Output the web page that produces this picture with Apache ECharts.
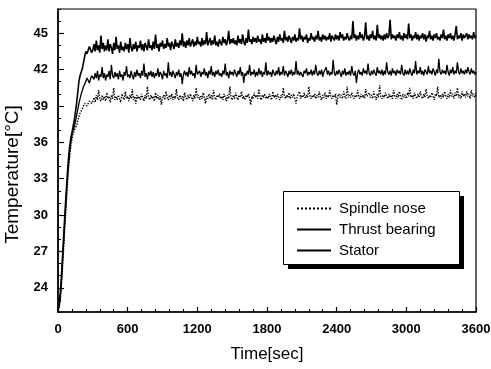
<!DOCTYPE html>
<html>
<head>
<meta charset="utf-8">
<script src="https://cdn.jsdelivr.net/npm/echarts@6/dist/echarts.min.js"></script>
<style>
html,body{margin:0;padding:0;background:#fff;}
#chart{width:491px;height:369px;}
</style>
</head>
<body>
<div id="chart"></div>
<script>
// one reading every 10 s, from 0 to 3600 s
const sampleStep = 10;
const seriesNames = ['Spindle nose', 'Thrust bearing', 'Stator'];
const xTicks = [0, 600, 1200, 1800, 2400, 3000, 3600];
const yTicks = [24, 27, 30, 33, 36, 39, 42, 45];

const stator = [
22.3, 22.6, 23.6, 25.0, 26.8, 28.5, 30.2, 31.8, 33.3, 34.6, 35.6, 36.3, 36.8, 37.3, 37.8, 38.5,
39.2, 40.1, 41.0, 41.5, 41.8, 42.1, 42.6, 43.1, 43.5, 43.3, 43.2, 43.9, 43.8, 43.4, 43.6,
44.1, 43.5, 44.4, 43.6, 44.0, 43.4, 44.8, 43.7, 44.2, 43.5,
44.0, 43.6, 44.5, 43.5, 44.1, 43.8, 43.3, 44.2, 43.6, 44.7,
43.7, 44.0, 43.4, 44.3, 43.6, 43.9, 43.5, 44.2, 43.7, 44.1,
43.4, 44.6, 43.8, 43.5, 44.1, 43.7, 44.3, 43.5, 44.0, 43.8,
44.4, 43.6, 44.1, 43.5, 44.2, 43.9, 43.6, 44.5, 43.8, 44.0,
43.6, 44.3, 43.7, 44.9, 43.8, 44.1, 43.5, 44.2, 43.9, 44.4,
43.7, 44.1, 43.8, 44.6, 43.9, 44.2, 43.6, 44.3, 44.0, 43.7,
44.5, 43.9, 44.2, 43.8, 44.4, 44.0, 45.0, 43.9, 44.3, 43.8,
44.4, 44.0, 44.6, 43.9, 44.2, 44.5, 43.9, 44.3, 44.0, 44.7,
44.1, 44.3, 43.9, 44.6, 44.0, 44.4, 44.1, 45.1, 44.0, 44.3,
44.6, 44.0, 44.4, 44.1, 44.8, 44.0, 44.3, 43.9, 44.5, 44.2,
44.0, 44.7, 44.2, 44.5, 44.0, 44.4, 45.2, 44.1, 44.5, 44.2,
44.6, 44.1, 44.4, 44.0, 44.8, 44.2, 44.5, 44.1, 44.9, 44.3,
44.0, 44.6, 44.2, 45.3, 44.3, 44.5, 44.1, 44.7, 44.3, 44.6,
44.2, 44.8, 44.3, 44.5, 44.1, 44.9, 44.3, 44.6, 44.2, 45.0,
44.4, 44.7, 44.2, 44.6, 44.3, 44.8, 44.4, 44.1, 44.7, 44.3,
44.9, 44.4, 44.6, 44.2, 45.2, 44.4, 44.7, 44.3, 44.8, 44.5,
44.2, 44.7, 44.4, 44.9, 44.3, 44.6, 44.4, 45.4, 44.5, 44.8,
44.3, 44.7, 44.5, 44.9, 44.2, 44.6, 44.4, 45.0, 44.5, 44.7,
44.3, 44.8, 44.5, 45.2, 44.4, 44.7, 44.3, 44.9, 44.5, 44.8,
44.4, 44.7, 44.5, 45.0, 44.3, 44.8, 44.6, 44.4, 44.9, 44.5,
44.8, 44.4, 45.1, 44.6, 44.9, 44.4, 44.7, 44.5, 45.0, 44.6,
44.4, 44.8, 44.5, 46.0, 44.6, 44.9, 44.4, 44.8, 44.5, 45.1,
44.6, 44.9, 44.4, 44.7, 45.9, 44.5, 44.8, 44.4, 44.9, 44.6,
45.2, 44.5, 44.8, 44.4, 45.7, 44.6, 44.9, 44.5, 44.8, 44.4,
44.9, 44.5, 45.0, 44.6, 44.8, 46.1, 44.5, 44.9, 44.6, 44.8,
44.4, 44.9, 44.6, 45.1, 44.5, 44.8, 44.4, 45.0, 44.6, 44.9,
44.5, 45.8, 44.6, 44.9, 44.4, 44.8, 44.6, 45.1, 44.5, 44.9,
44.4, 44.8, 44.6, 45.0, 44.5, 44.9, 44.3, 44.8, 44.6, 45.2,
44.5, 44.8, 44.4, 44.9, 44.6, 45.0, 44.5, 44.7, 44.4, 44.9,
44.6, 45.3, 44.5, 44.8, 44.4, 44.9, 44.6, 45.0, 44.5, 44.8,
44.4, 44.9, 45.6, 44.5, 44.8, 44.6, 45.0, 44.4, 44.9, 44.6,
44.7, 45.0, 44.5, 44.9, 44.6, 44.8, 44.5, 45.1, 44.6, 44.8
];

const thrustBearing = [
22.2, 22.5, 23.2, 24.6, 26.2, 27.9, 29.6, 31.2, 32.8, 34.1, 35.2, 36.0, 36.6, 37.0, 37.3, 37.7,
38.2, 38.7, 39.2, 39.6, 40.0, 40.3, 40.6, 40.8, 40.9, 41.3, 41.2, 40.9, 41.0, 41.5, 41.4,
41.2, 41.7, 41.3, 41.9, 41.1, 41.6, 41.4, 42.2, 41.3, 41.7,
41.1, 41.6, 41.4, 41.9, 41.2, 42.4, 41.5, 41.3, 41.8, 41.4,
41.7, 41.2, 41.9, 41.4, 41.6, 41.1, 41.8, 41.5, 42.3, 41.4,
41.6, 41.3, 41.9, 41.5, 41.2, 41.8, 41.4, 42.0, 41.5, 41.7,
41.3, 41.9, 41.5, 42.5, 41.4, 41.7, 41.2, 41.8, 41.5, 41.9,
41.4, 41.8, 41.3, 41.7, 41.5, 42.1, 41.4, 41.8, 41.6, 41.2,
41.9, 41.5, 41.7, 41.3, 42.6, 41.5, 41.8, 41.4, 41.9, 41.6,
41.3, 41.8, 41.5, 42.0, 41.4, 41.7, 40.8, 41.6, 41.9, 41.5,
41.8, 41.4, 42.2, 41.6, 41.9, 41.5, 41.7, 41.3, 42.4, 41.6,
41.5, 41.9, 41.4, 41.8, 41.6, 42.1, 41.5, 41.8, 41.3, 41.9,
41.6, 42.3, 41.5, 41.8, 41.4, 41.9, 41.6, 42.0, 41.5, 41.7,
41.4, 41.9, 41.6, 42.5, 41.5, 41.8, 41.3, 41.9, 41.6, 41.8,
41.5, 42.0, 41.7, 41.4, 41.9, 41.6, 42.2, 41.5, 41.8, 40.9,
41.7, 41.5, 41.9, 41.6, 42.4, 41.5, 41.8, 41.6, 42.0, 41.4,
41.8, 41.5, 42.1, 41.6, 41.9, 41.4, 41.8, 41.6, 42.6, 41.5,
41.9, 41.6, 41.8, 41.4, 42.0, 41.7, 41.5, 41.9, 41.6, 42.2,
41.5, 41.8, 41.6, 42.3, 41.5, 41.9, 41.7, 41.4, 41.9, 41.6,
42.0, 41.5, 41.8, 41.6, 42.7, 41.6, 41.9, 41.5, 41.8, 41.6,
41.4, 41.9, 41.7, 42.1, 41.5, 41.8, 41.6, 42.0, 41.5, 41.9,
41.6, 42.4, 41.7, 41.5, 41.9, 41.6, 42.0, 41.4, 41.8, 41.7,
42.2, 41.6, 41.9, 41.5, 41.8, 41.6, 42.8, 41.7, 41.5, 41.9,
41.6, 42.0, 41.7, 41.4, 41.9, 41.6, 42.1, 41.5, 41.8, 41.6,
41.9, 41.5, 42.3, 41.7, 41.5, 41.9, 40.9, 41.7, 42.0, 41.6,
41.8, 41.5, 42.1, 41.7, 41.9, 41.6, 42.5, 41.7, 41.5, 41.9,
41.6, 42.0, 41.7, 41.5, 42.2, 41.7, 41.9, 41.6, 42.0, 41.5,
41.9, 41.6, 42.6, 41.8, 41.6, 41.9, 41.5, 42.1, 41.7, 41.9,
41.5, 42.0, 41.7, 41.9, 41.6, 42.4, 41.7, 41.5, 42.0, 41.6,
41.9, 41.6, 42.1, 41.7, 41.5, 42.0, 41.7, 42.7, 41.6, 41.9,
41.7, 42.2, 41.6, 41.9, 41.5, 42.0, 41.8, 41.6, 42.3, 41.7,
41.9, 41.6, 42.1, 41.8, 41.5, 42.0, 41.7, 42.9, 41.8, 41.6,
42.0, 41.7, 41.9, 41.6, 42.4, 41.8, 41.5, 42.0, 41.7, 42.2,
41.6, 41.9, 41.7, 42.6, 41.8, 41.6, 42.1, 41.7, 41.9, 41.6,
42.0, 41.7, 42.2, 41.8, 41.6, 42.1, 41.7, 41.9, 41.6, 41.8
];

const spindleNose = [
22.1, 22.4, 23.0, 24.3, 25.8, 27.5, 29.2, 30.8, 32.4, 33.7, 34.8, 35.6, 36.2, 36.7, 37.0, 37.2,
37.4, 37.8, 38.1, 38.4, 38.6, 38.8, 39.0, 39.2, 39.3, 39.0, 39.1, 39.4, 39.5, 39.2, 39.4,
39.7, 39.3, 39.9, 39.5, 40.3, 39.6, 39.4, 39.9, 39.5, 39.8,
39.4, 40.1, 39.6, 39.8, 39.3, 39.9, 39.6, 40.5, 39.5, 39.8,
39.5, 39.9, 39.6, 39.3, 40.0, 39.7, 39.5, 40.2, 39.6, 39.8,
39.4, 39.9, 39.6, 40.4, 39.5, 39.8, 39.2, 39.9, 39.6, 39.8,
39.5, 40.0, 39.7, 39.4, 39.9, 39.6, 40.6, 39.7, 39.5, 39.9,
39.6, 39.8, 39.4, 40.1, 39.6, 39.9, 39.5, 39.8, 39.1, 39.7,
39.9, 39.5, 40.2, 39.7, 39.5, 39.9, 39.6, 40.0, 39.5, 39.8,
39.6, 40.4, 39.7, 39.5, 39.9, 39.6, 39.8, 39.4, 40.1, 39.7,
39.5, 39.9, 39.6, 40.0, 39.7, 39.4, 39.9, 39.6, 40.5, 39.7,
39.9, 39.5, 39.8, 39.6, 40.1, 39.7, 39.2, 39.8, 39.6, 40.0,
39.6, 39.9, 39.5, 40.3, 39.7, 39.5, 39.9, 39.7, 40.0, 39.6,
39.8, 39.5, 40.0, 39.7, 39.4, 39.9, 39.6, 40.6, 39.7, 39.5,
39.9, 39.6, 40.1, 39.7, 39.5, 39.9, 39.7, 40.2, 39.6, 39.8,
39.5, 39.9, 39.7, 40.0, 39.6, 39.1, 39.8, 39.6, 40.1, 39.7,
39.9, 39.6, 40.4, 39.7, 39.5, 39.9, 39.7, 40.0, 39.6, 39.8,
39.6, 40.0, 39.7, 39.5, 40.2, 39.7, 39.9, 39.6, 40.0, 39.7,
39.5, 39.9, 39.7, 40.5, 39.8, 39.6, 39.9, 39.7, 40.1, 39.6,
39.9, 39.7, 40.0, 39.6, 39.2, 39.8, 39.7, 40.2, 39.6, 39.9,
39.7, 40.1, 39.6, 39.9, 39.7, 40.6, 39.8, 39.6, 39.9, 39.7,
40.0, 39.6, 39.9, 39.7, 40.2, 39.7, 39.5, 39.9, 39.7, 40.1,
39.6, 39.9, 39.7, 40.3, 39.8, 39.6, 39.9, 39.7, 40.0, 39.1,
39.8, 40.0, 39.7, 39.9, 39.6, 40.2, 39.8, 39.6, 40.6, 39.7,
39.9, 39.7, 40.1, 39.8, 39.6, 39.9, 39.7, 40.3, 39.8, 39.6,
40.0, 39.7, 39.9, 39.6, 40.4, 39.8, 39.7, 40.1, 39.7, 39.9,
39.6, 40.2, 39.8, 39.5, 40.0, 39.7, 40.7, 39.8, 39.6, 39.9,
39.7, 40.1, 39.8, 39.6, 40.0, 39.7, 39.9, 39.6, 40.3, 39.8,
39.6, 40.0, 39.7, 40.2, 39.8, 39.5, 40.0, 39.7, 39.9, 39.6,
40.1, 39.8, 40.5, 39.7, 39.9, 39.6, 40.1, 39.8, 39.6, 40.0,
39.7, 40.2, 39.8, 39.6, 40.0, 39.7, 40.4, 39.8, 39.6, 39.9,
39.7, 40.1, 39.8, 39.5, 40.0, 39.8, 40.6, 39.7, 39.9, 39.6,
40.0, 39.7, 40.2, 39.8, 39.6, 40.0, 39.7, 40.3, 39.8, 40.0,
39.6, 40.1, 39.8, 40.5, 39.7, 39.9, 39.6, 40.2, 39.8, 40.0,
39.7, 40.2, 39.8, 40.0, 39.6, 40.3, 39.8, 40.0, 39.7, 40.1
];

function pairs(arr) {
  return arr.map((v, i) => [i * sampleStep, v]);
}

const FONT = 'Liberation Sans, Arial, sans-serif';
const chart = echarts.init(document.getElementById('chart'), null, {renderer: 'canvas'});

chart.setOption({
  backgroundColor: '#fff',
  animation: false,
  grid: {
    left: 58, right: 15, top: 9, bottom: 57,
    outerBoundsMode: 'none',
    containLabel: false,
    show: true, borderColor: '#000', borderWidth: 1.2, backgroundColor: 'transparent'
  },
  graphic: [
    {type: 'rect', left: 288, top: 196, z: 10, silent: true,
     shape: {width: 176, height: 73}, style: {fill: '#000'}},
    {type: 'rect', left: 283, top: 191, z: 11, silent: true,
     shape: {width: 176, height: 73}, style: {fill: '#fff', stroke: '#000', lineWidth: 1}}
  ],
  legend: {
    orient: 'vertical',
    left: 283, top: 191,
    padding: [10, 16, 9, 13],
    itemGap: 6,
    itemWidth: 34, itemHeight: 14,
    z: 20,
    itemStyle: {opacity: 0},
    data: seriesNames,
    textStyle: {fontFamily: FONT, fontSize: 15, color: '#000', padding: [0, 0, 0, 3]}
  },
  xAxis: {
    type: 'value',
    min: 0, max: 3600, interval: 600,
    name: 'Time[sec]',
    nameLocation: 'middle', nameGap: 34,
    nameTextStyle: {fontFamily: FONT, fontSize: 17, color: '#000'},
    axisLine: {show: true, lineStyle: {color: '#000', width: 1.6}},
    axisTick: {show: true, inside: true, length: 5, lineStyle: {color: '#000', width: 1.2}},
    minorTick: {show: true, splitNumber: 5, length: 3, lineStyle: {color: '#000', width: 1}},
    axisLabel: {fontFamily: FONT, fontSize: 13, fontWeight: 'bold', color: '#000', margin: 11,
      customValues: xTicks, formatter: v => String(v)},
    splitLine: {show: false}
  },
  yAxis: [{
    type: 'value',
    min: 22, max: 47,
    name: 'Temperature[°C]',
    nameLocation: 'middle', nameGap: 30, nameRotate: 90,
    nameTextStyle: {fontFamily: FONT, fontSize: 19, color: '#000', padding: [0, 28, 0, 0]},
    axisLine: {show: true, lineStyle: {color: '#000', width: 1.6}},
    axisTick: {show: true, inside: true, length: 6, lineStyle: {color: '#000', width: 1.2},
      customValues: yTicks},
    axisLabel: {fontFamily: FONT, fontSize: 13, fontWeight: 'bold', color: '#000', margin: 10,
      customValues: yTicks, formatter: v => String(v)},
    splitLine: {show: false}
  }, {
    type: 'value',
    position: 'left',
    min: 22, max: 47, interval: 1,
    axisLine: {show: false},
    axisTick: {show: true, inside: true, length: 3, lineStyle: {color: '#000', width: 1}},
    axisLabel: {show: false},
    splitLine: {show: false}
  }],
  series: [{
    name: 'Spindle nose', type: 'line', yAxisIndex: 0,
    data: pairs(spindleNose), symbol: 'none', z: 3,
    lineStyle: {color: '#000', width: 1.4, type: 'dotted'}, itemStyle: {color: '#000'}
  }, {
    name: 'Thrust bearing', type: 'line', yAxisIndex: 0,
    data: pairs(thrustBearing), symbol: 'none', z: 4,
    lineStyle: {color: '#000', width: 1.3}, itemStyle: {color: '#000'}
  }, {
    name: 'Stator', type: 'line', yAxisIndex: 0,
    data: pairs(stator), symbol: 'none', z: 5,
    lineStyle: {color: '#000', width: 1.6}, itemStyle: {color: '#000'}
  }]
});
</script>
</body>
</html>
